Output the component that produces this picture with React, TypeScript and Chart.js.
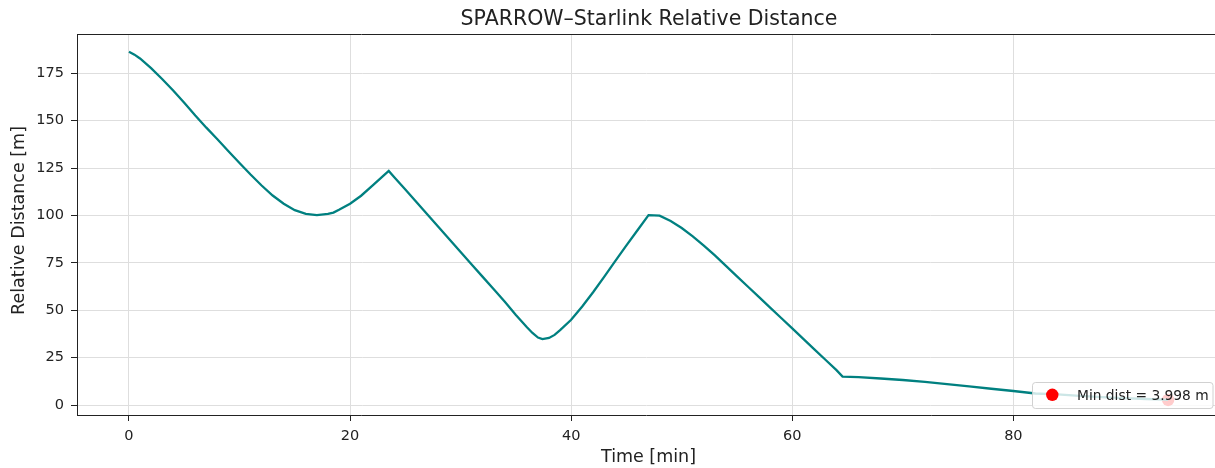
import React, { useEffect, useRef } from "react";
import { Chart, registerables } from "chart.js";

Chart.register(...registerables);

// ---- data ----
const times = [
  0, 0.5, 1, 2, 3, 4, 5, 6, 7, 8, 9, 10, 11, 12, 13, 14, 15, 16, 17, 18, 18.5, 19, 20, 21, 22, 23, 23.5,
  24, 25, 26, 27, 28, 29, 30, 31, 32, 33, 34, 35, 36, 36.5, 37, 37.4, 38, 38.5, 39, 40, 41, 42, 43, 44, 45, 46, 47,
  48, 49, 50, 51, 52, 53, 54, 55, 56, 57, 58, 59, 60, 61, 62, 63, 64, 64.55,
  66, 68, 70, 72, 74, 76, 78, 80, 82, 84, 86, 88, 90, 92, 93, 94,
];
const distances = [
  186.3, 184.8, 182.8, 177.7, 172.0, 165.9, 159.4, 152.7, 146.3, 140.2, 133.9, 127.7, 121.6, 115.8, 110.5, 106.2, 102.8, 100.8, 100.2, 100.8, 101.5, 103.0, 106.2, 110.4, 115.6, 120.9, 123.5,
  120.2, 113.7, 107.1, 100.5, 93.9, 87.3, 80.7, 74.1, 67.6, 61.1, 54.5, 47.5, 41.0, 38.0, 35.6, 34.8, 35.4, 37.0, 39.5, 45.0, 52.0, 59.6, 67.7, 76.0, 84.2, 92.2, 100.2,
  99.9, 97.1, 93.4, 89.0, 84.1, 78.9, 73.4, 67.9, 62.4, 56.9, 51.4, 45.9, 40.4, 34.9, 29.4, 23.9, 18.4, 15.0,
  14.7, 14.0, 13.2, 12.2, 11.0, 9.8, 8.6, 7.4, 6.1, 5.6, 4.8, 4.2, 3.7, 3.2, 2.95, 2.7,
];
const minDistTime = [94];
const minDistValue = [2.7];
const minDistLabel = "Min dist = 3.998 m";
const titleText = "SPARROW\u2013Starlink Relative Distance";
const xLabel = "Time [min]";
const yLabel = "Relative Distance [m]";

const FONT = '"DejaVu Sans", "Liberation Sans", sans-serif';
const TEXT = "#222222";

const decorPlugin = {
  id: "decor",
  afterDraw(chart: any) {
    const { ctx, chartArea } = chart;
    ctx.save();
    // top spine
    ctx.strokeStyle = TEXT;
    ctx.lineWidth = 1;
    ctx.beginPath();
    ctx.moveTo(chartArea.left, Math.round(chartArea.top) + 0.5);
    ctx.lineTo(chartArea.right, Math.round(chartArea.top) + 0.5);
    ctx.stroke();

    // title
    ctx.fillStyle = TEXT;
    ctx.font = `20.5px ${FONT}`;
    ctx.textAlign = "center";
    ctx.textBaseline = "alphabetic";
    ctx.fillText(titleText, 649, 25);

    // axis labels
    ctx.font = `17.5px ${FONT}`;
    ctx.textBaseline = "middle";
    ctx.fillText(xLabel, 648.5, 457);
    ctx.save();
    ctx.translate(19, 220.5);
    ctx.rotate(-Math.PI / 2);
    ctx.fillText(yLabel, 0, 0);
    ctx.restore();

    // legend box
    const lx = 1032.5, ly = 382.5, lw = 180.5, lh = 26, r = 3;
    ctx.beginPath();
    ctx.moveTo(lx + r, ly);
    ctx.lineTo(lx + lw - r, ly);
    ctx.arcTo(lx + lw, ly, lx + lw, ly + r, r);
    ctx.lineTo(lx + lw, ly + lh - r);
    ctx.arcTo(lx + lw, ly + lh, lx + lw - r, ly + lh, r);
    ctx.lineTo(lx + r, ly + lh);
    ctx.arcTo(lx, ly + lh, lx, ly + lh - r, r);
    ctx.lineTo(lx, ly + r);
    ctx.arcTo(lx, ly, lx + r, ly, r);
    ctx.closePath();
    ctx.fillStyle = "rgba(255,255,255,0.8)";
    ctx.fill();
    ctx.strokeStyle = "rgba(204,204,204,0.9)";
    ctx.stroke();

    ctx.beginPath();
    ctx.arc(1052.3, 394.8, 6.2, 0, Math.PI * 2);
    ctx.fillStyle = "#ff0000";
    ctx.fill();

    ctx.fillStyle = TEXT;
    ctx.font = `13.8px ${FONT}`;
    ctx.textAlign = "left";
    ctx.textBaseline = "alphabetic";
    ctx.fillText(minDistLabel, 1077, 399.5);
    ctx.restore();
  },
};

export default function App() {
  const ref = useRef<HTMLCanvasElement | null>(null);

  useEffect(() => {
    if (!ref.current) return;
    const lineData = times.map((t, i) => ({ x: t, y: distances[i] }));
    const minData = minDistTime.map((t, i) => ({ x: t, y: minDistValue[i] }));
    const tickFont = { family: FONT, size: 14.5 };
    const chart = new Chart(ref.current, {
      type: "line",
      data: {
        datasets: [
          {
            label: "Relative distance",
            data: lineData,
            borderColor: "#008080",
            backgroundColor: "#008080",
            borderWidth: 2.3,
            pointRadius: 0,
            tension: 0,
            fill: false,
          },
          {
            label: minDistLabel,
            data: minData,
            showLine: false,
            pointRadius: 6.2,
            pointBackgroundColor: "#ff0000",
            pointBorderColor: "#ff0000",
            pointBorderWidth: 0,
          },
        ],
      },
      options: {
        animation: false,
        responsive: false,
        devicePixelRatio: 1,
        layout: { autoPadding: false, padding: { top: 34, left: 0, right: 0, bottom: 0 } },
        plugins: {
          legend: { display: false },
          title: { display: false },
          tooltip: { enabled: false },
        },
        scales: {
          x: {
            type: "linear",
            min: -4.7,
            max: 98.24,
            afterFit: (s: any) => {
              s.height = 53;
              s.paddingLeft = 0;
              s.paddingRight = 0;
            },
            ticks: {
              stepSize: 20,
              includeBounds: false,
              color: TEXT,
              font: tickFont,
              padding: 7,
              maxRotation: 0,
            },
            grid: {
              color: "#dedede",
              lineWidth: 1,
              tickColor: TEXT,
              tickLength: 6,
              tickWidth: 1,
            },
            border: { display: true, color: TEXT, width: 1 },
          },
          y: {
            type: "linear",
            min: -5.25,
            max: 195.7,
            afterFit: (s: any) => {
              s.width = 77;
              s.paddingTop = 0;
              s.paddingBottom = 0;
            },
            ticks: {
              stepSize: 25,
              includeBounds: false,
              color: TEXT,
              font: tickFont,
              padding: 7,
            },
            grid: {
              color: "#dedede",
              lineWidth: 1,
              tickColor: TEXT,
              tickLength: 6,
              tickWidth: 1,
            },
            border: { display: true, color: TEXT, width: 1 },
          },
        },
      },
      plugins: [decorPlugin],
    });
    return () => chart.destroy();
  }, []);

  return (
    <div style={{ position: "fixed", left: 0, top: 0, width: 1215, height: 468, background: "#fff" }}>
      <canvas ref={ref} width={1215} height={468} style={{ display: "block" }} />
    </div>
  );
}
